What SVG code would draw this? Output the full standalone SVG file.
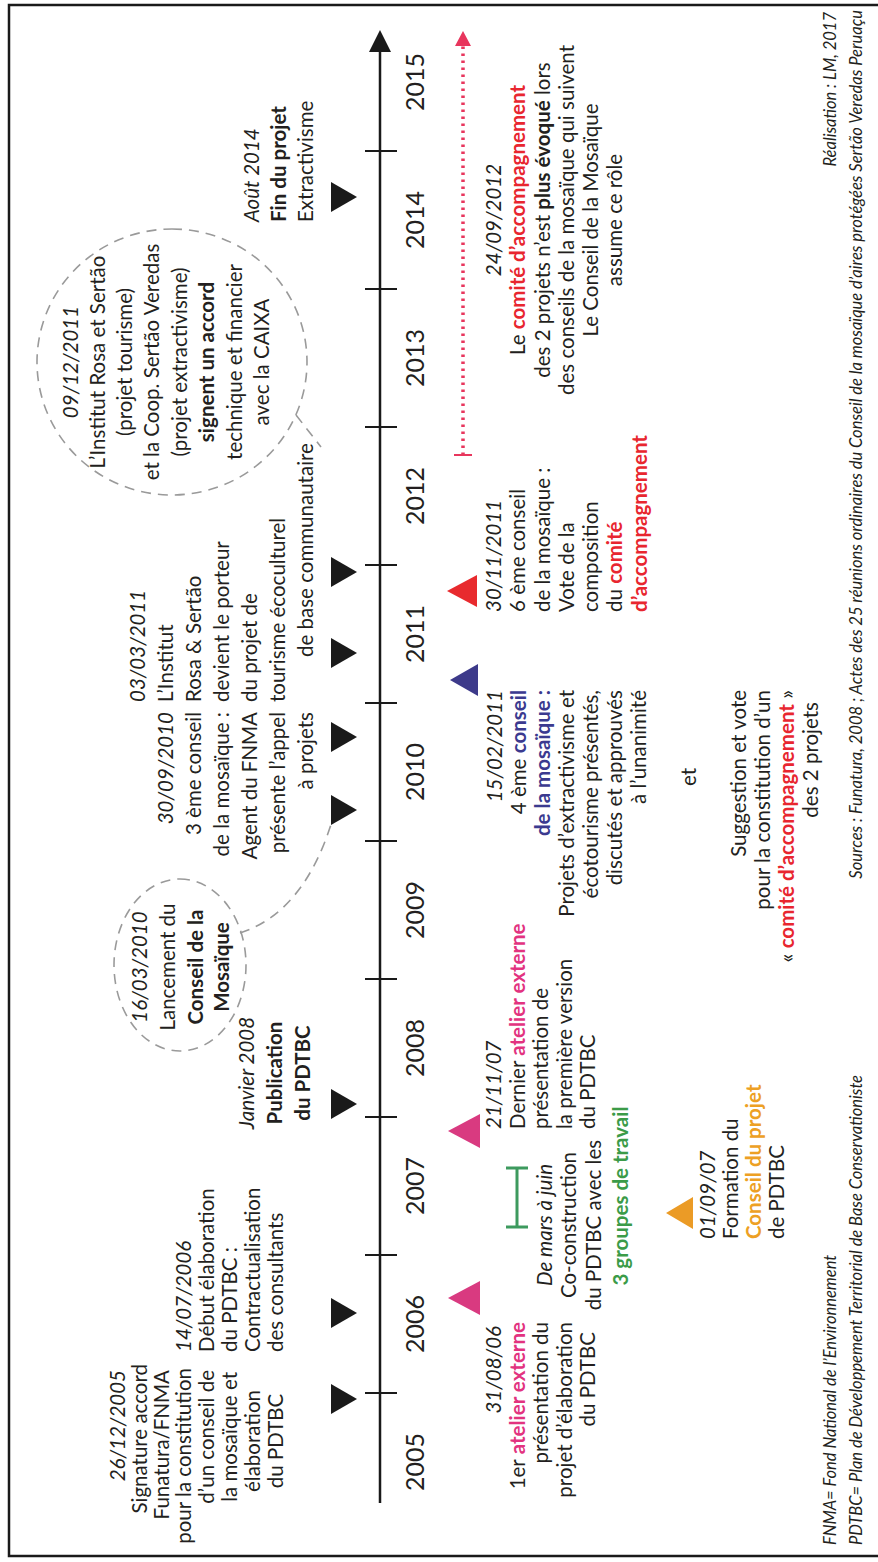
<svg xmlns="http://www.w3.org/2000/svg" width="878" height="1562" viewBox="0 0 878 1562">
<style>
text{font-family:Lato,"Open Sans","Liberation Sans",sans-serif;font-size:20.5px;fill:#231f20}
.d{font-style:italic}
.b{font-weight:bold}
.m{text-anchor:middle}
.e{text-anchor:end}
.yr{font-size:25px;text-anchor:middle}
.pk{fill:#e2337f;font-weight:bold}
.nv{fill:#3b3a8f;font-weight:bold}
.rd{fill:#e8262f;font-weight:bold}
.og{fill:#eda024;font-weight:bold}
.gn{fill:#3b9b48;font-weight:bold}
.ft{font-size:16.5px;font-style:italic}
.tri{fill:#1a1a1a}
.bub{fill:none;stroke:#9a9a9a;stroke-width:1.6;stroke-dasharray:10 7}
.tk{stroke:#1a1a1a;stroke-width:2}
</style>
<rect x="0" y="0" width="878" height="1562" fill="#ffffff"/>
<g transform="translate(0,1562) rotate(-90)">
  <rect x="6" y="9" width="1551" height="884" fill="none" stroke="#1a1a1a" stroke-width="2.5"/>
  <g id="axis">
    <line x1="59" y1="380" x2="1512" y2="380" stroke="#1a1a1a" stroke-width="2.5"/>
    <polygon points="1532,380 1510,369 1510,391" fill="#1a1a1a"/>
    <line class="tk" x1="169" y1="365" x2="169" y2="397"/>
    <line class="tk" x1="307" y1="365" x2="307" y2="397"/>
    <line class="tk" x1="445" y1="365" x2="445" y2="397"/>
    <line class="tk" x1="583" y1="365" x2="583" y2="397"/>
    <line class="tk" x1="721" y1="365" x2="721" y2="397"/>
    <line class="tk" x1="859" y1="365" x2="859" y2="397"/>
    <line class="tk" x1="997" y1="365" x2="997" y2="397"/>
    <line class="tk" x1="1135" y1="365" x2="1135" y2="397"/>
    <line class="tk" x1="1273" y1="365" x2="1273" y2="397"/>
    <line class="tk" x1="1411" y1="365" x2="1411" y2="397"/>
    <text class="yr" x="100" y="424">2005</text>
    <text class="yr" x="238" y="424">2006</text>
    <text class="yr" x="376" y="424">2007</text>
    <text class="yr" x="514" y="424">2008</text>
    <text class="yr" x="652" y="424">2009</text>
    <text class="yr" x="790" y="424">2010</text>
    <text class="yr" x="928" y="424">2011</text>
    <text class="yr" x="1066" y="424">2012</text>
    <text class="yr" x="1204" y="424">2013</text>
    <text class="yr" x="1342" y="424">2014</text>
    <text class="yr" x="1480" y="424">2015</text>
  </g>
  <g id="connectors">
    <path class="bub" d="M629,240 Q650,305 744,333"/>
    <path class="bub" d="M1147,296 L1115,321"/>
    <line x1="1107" y1="463" x2="1518" y2="463" stroke="#e8365d" stroke-width="3.5" stroke-dasharray="2.5 4.5"/>
    <line x1="1107" y1="454" x2="1107" y2="472" stroke="#e8365d" stroke-width="2"/>
    <polygon points="1531,463 1516,455 1516,471" fill="#e8365d"/>
  </g>
  <g id="n2005">
    <polygon class="tri" points="148,331 178,331 163,357"/>
    <text class="e d" x="192" y="125">26/12/2005</text>
    <text class="e" x="198" y="147">Signature accord</text>
    <text class="e" x="192" y="169">Funatura/FNMA</text>
    <text class="e" x="194" y="191">pour la constitution</text>
    <text class="e" x="192" y="214">d’un conseil de</text>
    <text class="e" x="190" y="237">la mosaïque et</text>
    <text class="m" x="121" y="260">élaboration</text>
    <text class="m" x="121" y="283">du PDTBC</text>
  </g>
  <g id="n2006a">
    <polygon class="tri" points="234,331 264,331 249,357"/>
    <text class="d" x="210" y="191">14/07/2006</text>
    <text x="210" y="214">Début élaboration</text>
    <text x="210" y="237">du PDTBC :</text>
    <text x="210" y="260">Contractualisation</text>
    <text x="210" y="283">des consultants</text>
  </g>
  <g id="n2008">
    <polygon class="tri" points="443,331 473,331 458,357"/>
    <text class="m d" x="489" y="254">Janvier 2008</text>
    <text class="m b" x="489" y="282">Publication</text>
    <text class="m b" x="489" y="310">du PDTBC</text>
  </g>
  <g id="n2010a">
    <polygon class="tri" points="737,331 767,331 752,357"/>
    <ellipse class="bub" cx="597" cy="180" rx="86" ry="66"/>
    <text class="m d" x="595" y="147">16/03/2010</text>
    <text class="m" x="595" y="175">Lancement du</text>
    <text class="m b" x="595" y="203">Conseil de la</text>
    <text class="m b" x="595" y="229">Mosaïque</text>
  </g>
  <g id="n2010b">
    <polygon class="tri" points="810,331 840,331 825,357"/>
    <text class="e d" x="850" y="173">30/09/2010</text>
    <text class="e" x="850" y="201">3 ème conseil</text>
    <text class="e" x="850" y="229">de la mosaïque :</text>
    <text class="e" x="850" y="257">Agent du FNMA</text>
    <text class="e" x="850" y="285">présente l’appel</text>
    <text class="e" x="850" y="313">à projets</text>
  </g>
  <g id="n2011a">
    <polygon class="tri" points="894,331 924,331 909,357"/>
    <text class="d" x="860" y="145">03/03/2011</text>
    <text x="860" y="173">L’Institut</text>
    <text x="860" y="201">Rosa &amp; Sertão</text>
    <text x="860" y="229">devient le porteur</text>
    <text x="860" y="257">du projet de</text>
    <text x="860" y="285">tourisme écoculturel</text>
    <text x="905" y="313">de base communautaire</text>
  </g>
  <g id="n2011b">
    <polygon class="tri" points="975,331 1005,331 990,357"/>
    <ellipse class="bub" cx="1200" cy="172" rx="133" ry="135"/>
    <text class="m d" x="1200" y="78">09/12/2011</text>
    <text class="m" x="1200" y="105">L’Institut Rosa et Sertão</text>
    <text class="m" x="1200" y="132">(projet tourisme)</text>
    <text class="m" x="1200" y="159">et la Coop. Sertão Veredas</text>
    <text class="m" x="1200" y="187">(projet extractivisme)</text>
    <text class="m b" x="1200" y="214">signent un accord</text>
    <text class="m" x="1200" y="242">technique et financier</text>
    <text class="m" x="1200" y="269">avec la CAIXA</text>
  </g>
  <g id="n2014">
    <polygon class="tri" points="1350,331 1380,331 1365,357"/>
    <text class="d" x="1340" y="259">Août 2014</text>
    <text class="b" x="1340" y="286">Fin du projet</text>
    <text x="1340" y="313">Extractivisme</text>
  </g>
  <g id="n2006b">
    <polygon points="264,448 247,480 281,480" fill="#d93a80"/>
    <text class="e d" x="236" y="501">31/08/06</text>
    <text class="e" x="240" y="524.5">1er <tspan class="pk">atelier externe</tspan></text>
    <text class="e" x="240" y="548">présentation du</text>
    <text class="e" x="240" y="571.5">projet d’élaboration</text>
    <text class="e" x="230" y="595">du PDTBC</text>
  </g>
  <g id="n2007a">
    <path d="M335,517 H394 M335,506 V528 M394,506 V528" stroke="#3d9a5e" stroke-width="3" fill="none"/>
    <text class="m d" x="337" y="552">De mars à juin</text>
    <text class="m" x="337" y="576">Co-construction</text>
    <text class="m" x="337" y="601">du PDTBC avec les</text>
    <text class="m gn" x="366" y="628">3 groupes de travail</text>
  </g>
  <g id="n2007b">
    <polygon points="349,666 333,693 365,693" fill="#eb9b26"/>
    <text class="d" x="323" y="715">01/09/07</text>
    <text x="323" y="738">Formation du</text>
    <text class="og" x="323" y="761">Conseil du projet</text>
    <text x="323" y="784">de PDTBC</text>
  </g>
  <g id="n2007c">
    <polygon points="431,448 414,480 448,480" fill="#d93a80"/>
    <text class="d" x="433" y="501">21/11/07</text>
    <text x="433" y="524.5">Dernier <tspan class="pk">atelier externe</tspan></text>
    <text x="433" y="548">présentation de</text>
    <text x="433" y="571.5">la première version</text>
    <text x="433" y="595">du PDTBC</text>
  </g>
  <g id="n2011c">
    <polygon points="882,450 866,478 898,478" fill="#3d3a8a"/>
    <text class="e d" x="872" y="502">15/02/2011</text>
    <text class="e" x="872" y="526">4 ème <tspan class="nv">conseil</tspan></text>
    <text class="e nv" x="872" y="550">de la mosaïque :</text>
    <text class="e" x="872" y="574">Projets d’extractivisme et</text>
    <text class="e" x="872" y="598">écotourisme présentés,</text>
    <text class="e" x="872" y="622">discutés et approuvés</text>
    <text class="e" x="872" y="646">à l’unanimité</text>
    <text class="m" x="785" y="696">et</text>
    <text class="e" x="872" y="746">Suggestion et vote</text>
    <text class="e" x="872" y="770">pour la constitution d’un</text>
    <text class="e" x="872" y="794">« <tspan class="rd">comité d’accompagnement</tspan> »</text>
    <text class="e" x="860" y="818">des 2 projets</text>
  </g>
  <g id="n2011d">
    <polygon points="971,447 955,477 987,477" fill="#e82a2e"/>
    <text class="d" x="950" y="501">30/11/2011</text>
    <text x="950" y="525">6 ème conseil</text>
    <text x="950" y="550">de la mosaïque :</text>
    <text x="950" y="574">Vote de la</text>
    <text x="950" y="598">composition</text>
    <text x="950" y="622">du <tspan class="rd">comité</tspan></text>
    <text class="rd" x="950" y="647">d’accompagnement</text>
  </g>
  <g id="n2012">
    <text class="m d" x="1342" y="501">24/09/2012</text>
    <text class="m" x="1342" y="525">Le <tspan class="rd">comité d’accompagnement</tspan></text>
    <text class="m" x="1342" y="550">des 2 projets n’est <tspan class="b">plus évoqué</tspan> lors</text>
    <text class="m" x="1342" y="574">des conseils de la mosaïque qui suivent</text>
    <text class="m" x="1342" y="598">Le Conseil de la Mosaïque</text>
    <text class="m" x="1342" y="622">assume ce rôle</text>
  </g>
  <g id="footer">
    <text class="ft" x="17" y="836">FNMA= Fond National de l’Environnement</text>
    <text class="ft" x="17" y="862">PDTBC= Plan de Développement Territorial de Base Conservationiste</text>
    <text class="ft e" x="1552" y="862">Sources : Funatura, 2008 ; Actes des 25 réunions ordinaires du Conseil de la mosaïque d’aires protégées Sertão Veredas Peruaçu</text>
    <text class="ft e" x="1550" y="836">Réalisation : LM, 2017</text>
  </g>
</g>
</svg>
